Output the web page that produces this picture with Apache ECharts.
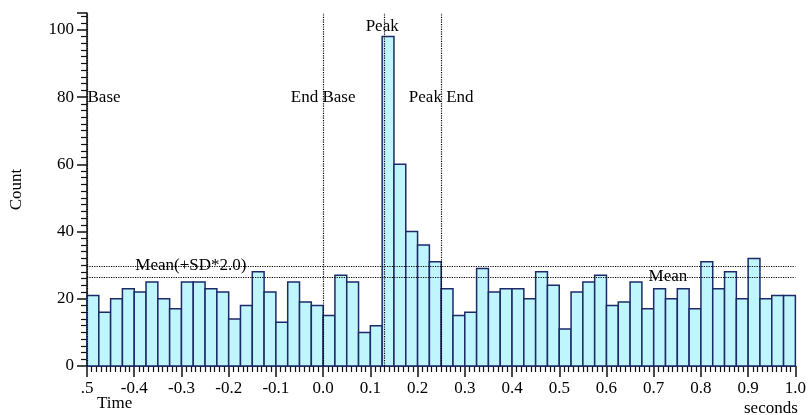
<!DOCTYPE html>
<html>
<head>
<meta charset="utf-8">
<script src="https://cdn.jsdelivr.net/npm/echarts@6/dist/echarts.min.js"></script>
<style>
  html, body { margin: 0; padding: 0; background: #fff; }
  #chart { width: 809px; height: 415px; }
</style>
</head>
<body>
<div id="chart"></div>
<script>
// histogram bins: start time and width (seconds)
var binStart = -0.5;
var binWidth = 0.025;
var counts = [
  21, 16, 20, 23, 22, 25, 20, 17, 25, 25, 23, 22, 14, 18, 28, 22, 13, 25, 19, 18,
  15, 27, 25, 10, 12, 98, 60, 40, 36, 31, 23, 15, 16, 29, 22, 23, 23, 20, 28, 24,
  11, 22, 25, 27, 18, 19, 25, 17, 23, 20, 23, 17, 31, 23, 28, 20, 32, 20, 21, 21
];
// marker lines
var markerTimes = [-0.5, 0.0, 0.125, 0.25];
var markerNames = ['Base', 'End Base', 'Peak', 'Peak End'];
var meanValue = 26.5;
var upperValue = 29.8;

var font = 'Liberation Serif';
var txt = '#000';

var barData = counts.map(function (c, i) {
  var t0 = binStart + i * binWidth;
  return [t0, t0 + binWidth, c];
});

var chart = echarts.init(document.getElementById('chart'));
var option = {
  animation: false,
  backgroundColor: '#fff',
  grid: { left: 85, right: 1, top: 13, bottom: 49 },
  xAxis: {
    type: 'value',
    min: -0.5,
    max: 1.0,
    interval: 0.1,
    axisLine: { show: true, onZero: false, lineStyle: { color: '#111', width: 1.5 } },
    axisTick: { show: true, length: 11, lineStyle: { color: '#111', width: 1.5 } },
    minorTick: { show: true, splitNumber: 10, length: 6, lineStyle: { color: '#111', width: 1.2 } },
    splitLine: { show: false },
    axisLabel: {
      margin: 14,
      fontFamily: font, fontSize: 17, color: txt,
      formatter: function (v) {
        if (Math.abs(v + 0.5) < 1e-9) return '.5';
        return v.toFixed(1);
      }
    }
  },
  yAxis: {
    type: 'value',
    min: 0,
    max: 105,
    interval: 20,
    name: 'Count',
    nameLocation: 'middle',
    nameRotate: 90,
    nameGap: 62,
    nameTextStyle: { fontFamily: font, fontSize: 17, color: txt },
    axisLine: { show: true, onZero: false, lineStyle: { color: '#111', width: 1.5 } },
    axisTick: { show: true, length: 10, lineStyle: { color: '#111', width: 1.5 } },
    minorTick: { show: true, splitNumber: 10, length: 6, lineStyle: { color: '#111', width: 1.2 } },
    splitLine: { show: false },
    axisLabel: {
      margin: 13, showMaxLabel: false,
      fontFamily: font, fontSize: 17, color: txt
    }
  },
  graphic: [
    { type: 'text', left: 97, top: 395, style: { text: 'Time', font: '17px "Liberation Serif"', fill: txt } },
    { type: 'text', left: 744, top: 400, style: { text: 'seconds', font: '17px "Liberation Serif"', fill: txt } }
  ],
  series: [
    {
      type: 'custom',
      z: 2,
      renderItem: function (params, api) {
        var p0 = api.coord([api.value(0), api.value(2)]);
        var p1 = api.coord([api.value(1), 0]);
        return {
          type: 'rect',
          shape: { x: p0[0], y: p0[1], width: p1[0] - p0[0], height: p1[1] - p0[1] },
          style: { fill: '#bff5fc', stroke: '#1c2a68', lineWidth: 1.5 }
        };
      },
      encode: { x: [0, 1], y: 2 },
      data: barData
    },
    {
      type: 'line',
      z: 3,
      data: [],
      markLine: {
        silent: true,
        symbol: 'none',
        label: { show: false },
        lineStyle: { type: 'dotted', color: '#000', width: 1.2, opacity: 1 },
        data: markerTimes.map(function (t) { return { xAxis: t }; })
          .concat([{ yAxis: meanValue }, { yAxis: upperValue }])
      }
    },
    {
      type: 'scatter',
      z: 4,
      symbolSize: 1,
      itemStyle: { color: 'rgba(0,0,0,0)', opacity: 1 },
      label: {
        show: true,
        formatter: '{b}',
        fontFamily: font, fontSize: 17, color: txt,
        position: 'inside'
      },
      data: [
        { name: markerNames[0], value: [markerTimes[0], 80], label: { position: 'right', distance: 0 } },
        { name: markerNames[1], value: [markerTimes[1], 80] },
        { name: markerNames[2], value: [markerTimes[2], 101] },
        { name: markerNames[3], value: [markerTimes[3], 80] },
        { name: 'Mean(+SD*2.0)', value: [-0.28, upperValue], label: { backgroundColor: '#fff', padding: [0, 2] } },
        { name: 'Mean', value: [0.73, meanValue], label: { backgroundColor: '#fff', padding: [0, 2] } }
      ]
    }
  ]
};
chart.setOption(option);
</script>
</body>
</html>
